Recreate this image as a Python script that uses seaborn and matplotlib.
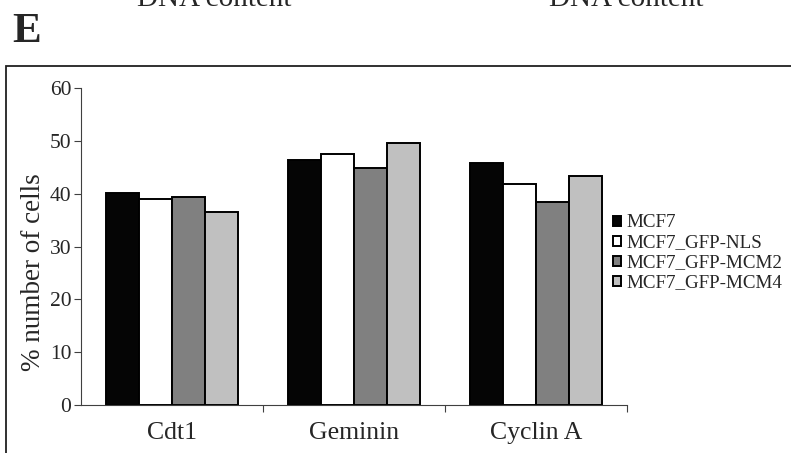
import seaborn as sns
import pandas as pd
import matplotlib.pyplot as plt
from matplotlib.patches import Rectangle
from matplotlib.ticker import FixedLocator

# values (% number of cells)
markers = ["Cdt1", "Geminin", "Cyclin A"]
cell_lines = ["MCF7", "MCF7_GFP-NLS", "MCF7_GFP-MCM2", "MCF7_GFP-MCM4"]
mcf7 = [40.2, 46.5, 45.9]
gfp_nls = [39.0, 47.6, 41.9]
gfp_mcm2 = [39.4, 44.9, 38.4]
gfp_mcm4 = [36.6, 49.7, 43.4]
bar_colors = ["#050505", "#ffffff", "#808080", "#c0c0c0"]

df = pd.DataFrame({
    "marker": markers * 4,
    "line": [c for c in cell_lines for _ in markers],
    "value": mcf7 + gfp_nls + gfp_mcm2 + gfp_mcm4,
})

sns.set_style("white")
plt.rcParams["font.family"] = ["Liberation Serif", "DejaVu Serif"]

fig = plt.figure(figsize=(7.91, 4.53), dpi=100)
ax = fig.add_axes([81 / 791, 1 - 405 / 453, (626.7 - 81) / 791, (405 - 88.3) / 453])

sns.barplot(data=df, x="marker", y="value", hue="line", hue_order=cell_lines,
            palette=bar_colors, width=0.727, saturation=1, edgecolor="black",
            linewidth=1.4, ax=ax, legend=True)

ax.set_ylim(0, 60)
ax.set_xlim(-0.5, 2.5)
ax.set_yticks(range(0, 61, 10))
ax.tick_params(axis="y", direction="out", length=5, width=0.8, color="#404040",
               labelsize=15.5, pad=2, left=True)
ax.tick_params(axis="x", which="major", length=0, labelsize=18.5, pad=12)
ax.xaxis.set_minor_locator(FixedLocator([0.5, 1.5, 2.5]))
ax.tick_params(axis="x", which="minor", direction="out", length=5, width=0.8,
               color="#404040", bottom=True)
ax.set_xlabel("")
ax.set_ylabel("% number of cells", fontsize=19.5)
# label sits a bit lower than the axis middle in the original
ax.yaxis.set_label_coords(-0.065, 0.42)
for side in ["top", "right"]:
    ax.spines[side].set_visible(False)
for side in ["left", "bottom"]:
    ax.spines[side].set_color("#404040")
    ax.spines[side].set_linewidth(0.8)

handles, labels = ax.get_legend_handles_labels()
ax.get_legend().remove()
fig.legend(handles, labels, loc="center left", bbox_to_anchor=(0.775, 0.4415),
           frameon=False, fontsize=13.7, handlelength=0.42, handleheight=0.42,
           handletextpad=0.3, labelspacing=0.16, borderaxespad=0, borderpad=0)

# outer panel frame and panel letter
fig.patches.append(Rectangle((6 / 791, -0.05), 1.0, 1 - 65.7 / 453 + 0.05,
                             transform=fig.transFigure, fill=False,
                             edgecolor="#202020", linewidth=1.3))
fig.text(12 / 791, 1 - 42 / 453, "E", fontsize=31, fontweight="bold", ha="left",
         va="baseline")

# bottom of the axis titles of the panels above, cut by the crop
fig.text(214 / 791, 1 - 6 / 453, "DNA content", fontsize=21, ha="center",
         va="baseline")
fig.text(626 / 791, 1 - 6 / 453, "DNA content", fontsize=21, ha="center",
         va="baseline")

fig.savefig("out.png", dpi=100)
